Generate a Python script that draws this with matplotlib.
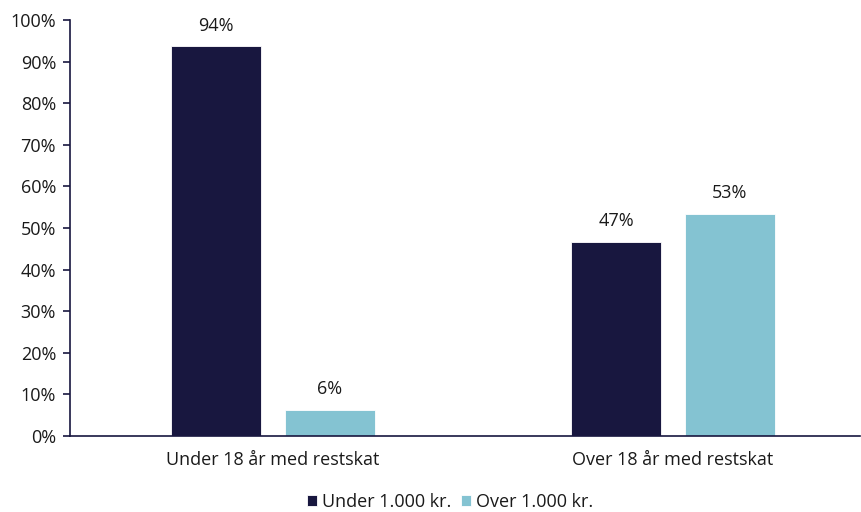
import numpy as np
import matplotlib.pyplot as plt
from matplotlib.ticker import PercentFormatter

# -----------------------------------------
# DATA
# -----------------------------------------
categories = ["Under 18 år med restskat", "Over 18 år med restskat"]
series_names = ["Under 1.000 kr.", "Over 1.000 kr."]
under_1000 = [93.7, 46.6]
over_1000 = [6.3, 53.4]

NAVY = "#18173F"
LIGHT = "#84C3D2"
TXT = "#1a1a1a"
FS = 13

plt.rcParams["font.family"] = ["Open Sans", "DejaVu Sans"]

fig = plt.figure(figsize=(8.61, 5.12), dpi=100)
ax = fig.add_axes([70 / 861, 76 / 512, 790 / 861, 416 / 512])

x = np.arange(len(categories))
width = 0.225
offset = 0.1425

bars1 = ax.bar(x - offset, under_1000, width, color=NAVY,
               edgecolor="white", linewidth=0.6, label=series_names[0])
bars2 = ax.bar(x + offset, over_1000, width, color=LIGHT,
               edgecolor="white", linewidth=0.6, label=series_names[1])

for bars in (bars1, bars2):
    for b in bars:
        ax.text(b.get_x() + b.get_width() / 2, b.get_height() + 2.8,
                f"{b.get_height():.0f}%", ha="center", va="bottom",
                fontsize=FS, color=TXT)

ax.set_ylim(0, 100)
ax.set_xlim(-0.5075, 1.4675)
ax.set_yticks(np.arange(0, 101, 10))
ax.yaxis.set_major_formatter(PercentFormatter(decimals=0))
ax.set_xticks(x)
ax.set_xticklabels(categories)

for side in ("top", "right"):
    ax.spines[side].set_visible(False)
for side in ("left", "bottom"):
    ax.spines[side].set_color(NAVY)
    ax.spines[side].set_linewidth(1.2)

ax.tick_params(axis="y", colors=NAVY, labelcolor=TXT, labelsize=FS,
               length=5, width=1.2, pad=5)
ax.tick_params(axis="x", length=0, labelcolor=TXT, labelsize=FS, pad=11)

fig.legend(handles=[bars1, bars2], labels=series_names, loc="center",
           bbox_to_anchor=(450 / 861, 1 - 502 / 512), ncol=2, frameon=False,
           fontsize=FS, handlelength=0.55, handleheight=0.55,
           handletextpad=0.3, columnspacing=0.5, labelcolor=TXT)

fig.savefig("out.png", dpi=100)
